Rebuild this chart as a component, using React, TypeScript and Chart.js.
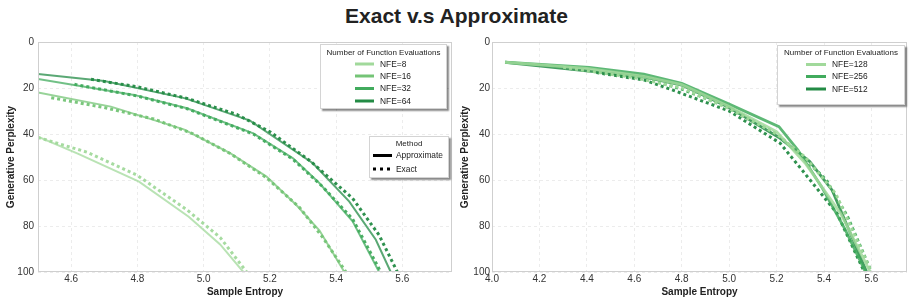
import React, { useEffect, useRef } from "react";
import { Chart, registerables } from "chart.js";

Chart.register(...registerables);

// ---------- text ----------
const TITLE = "Exact v.s Approximate";
const X_LABEL = "Sample Entropy";
const Y_LABEL = "Generative Perplexity";
const NFE_LEGEND_TITLE = "Number of Function Evaluations";
const METHOD_LEGEND_TITLE = "Method";
const METHOD_LABELS = ["Approximate", "Exact"];

// ---------- ticks ----------
const LEFT_X_TICKS = [4.6, 4.8, 5.0, 5.2, 5.4, 5.6];
const RIGHT_X_TICKS = [4.0, 4.2, 4.4, 4.6, 4.8, 5.0, 5.2, 5.4, 5.6];
const Y_TICKS = [0, 20, 40, 60, 80, 100];

// ---------- left panel series ----------
const LEFT_NFE = ["NFE=8", "NFE=16", "NFE=32", "NFE=64"];
const LEFT_COLORS = ["#a1d99b", "#74c476", "#41ab5d", "#238b45"];

const nfe8Approx = [[4.5, 41.2], [4.62, 48.5], [4.805, 60.7], [4.955, 76], [5.05, 88], [5.12, 100]];
const nfe8Exact = [[4.5, 41.5], [4.65, 48], [4.8, 58], [4.95, 73], [5.05, 85], [5.13, 100]];
const nfe16Approx = [[4.5, 21.9], [4.72, 28.1], [4.94, 38], [5.08, 48.3], [5.19, 58.5], [5.28, 70.9], [5.35, 82], [5.425, 100]];
const nfe16Exact = [[4.54, 24.2], [4.7, 28.5], [4.85, 33.5], [4.97, 40], [5.08, 48.5], [5.19, 59], [5.29, 72], [5.36, 85], [5.43, 100]];
const nfe32Approx = [[4.5, 16.1], [4.79, 23], [4.95, 28.8], [5.15, 39.7], [5.27, 50.6], [5.35, 61.4], [5.45, 78], [5.53, 100]];
const nfe32Exact = [[4.61, 18.4], [4.8, 23.5], [4.95, 29], [5.15, 40], [5.27, 51], [5.36, 63], [5.45, 77], [5.535, 100]];
const nfe64Approx = [[4.5, 13.9], [4.7, 17], [4.945, 24.5], [5.14, 34.2], [5.33, 52.7], [5.44, 69.4], [5.52, 86], [5.565, 100]];
const nfe64Exact = [[4.66, 16.2], [4.8, 19.5], [4.95, 24.5], [5.1, 31.5], [5.2, 39], [5.32, 51.5], [5.45, 68], [5.53, 84], [5.585, 100]];

const LEFT_APPROX = [nfe8Approx, nfe16Approx, nfe32Approx, nfe64Approx];
const LEFT_EXACT = [nfe8Exact, nfe16Exact, nfe32Exact, nfe64Exact];

// ---------- right panel series ----------
const RIGHT_NFE = ["NFE=128", "NFE=256", "NFE=512"];
const RIGHT_COLORS = ["#a1d99b", "#41ab5d", "#238b45"];

const nfe128Approx = [[4.055, 8.8], [4.4, 11.5], [4.64, 15], [4.8, 18.5], [5.0, 28], [5.2, 39], [5.32, 52.6], [5.47, 74.5], [5.595, 100]];
const nfe128Exact = [[4.3, 11], [4.6, 15.5], [4.8, 20], [5.0, 29], [5.2, 40], [5.32, 50], [5.45, 66], [5.6, 100]];
const nfe256Approx = [[4.055, 8.8], [4.41, 11], [4.64, 14], [4.8, 18], [5.0, 27], [5.21, 36.8], [5.29, 47], [5.39, 63], [5.49, 81.7], [5.575, 100]];
const nfe256Exact = [[4.25, 10.5], [4.45, 13], [4.65, 16], [4.8, 20.5], [5.0, 28.5], [5.2, 40], [5.31, 50], [5.41, 60], [5.5, 76], [5.6, 100]];
const nfe512Approx = [[4.055, 8.8], [4.63, 15], [4.8, 18.7], [5.0, 28.5], [5.21, 41.5], [5.34, 52], [5.435, 64.5], [5.58, 100]];
const nfe512Exact = [[4.44, 13.3], [4.64, 16.5], [4.78, 21.6], [5.0, 30], [5.215, 44], [5.31, 56], [5.455, 74.5], [5.57, 100]];

const RIGHT_APPROX = [nfe128Approx, nfe256Approx, nfe512Approx];
const RIGHT_EXACT = [nfe128Exact, nfe256Exact, nfe512Exact];

// ---------- styling ----------
const FONT = '"Liberation Sans", Arial, sans-serif';
const TICK_COLOR = "#333";
const GRID_COLOR = "#ececec";
const FRAME_COLOR = "#cfcfcf";
const DOT_DASH = [3, 3];

function toXY(arr: number[][]) {
  return arr.map(([x, y]) => ({ x, y }));
}

function withAlpha(hex: string, a: number) {
  const r = parseInt(hex.slice(1, 3), 16);
  const g = parseInt(hex.slice(3, 5), 16);
  const b = parseInt(hex.slice(5, 7), 16);
  return `rgba(${r},${g},${b},${a})`;
}

type LegendItem = { label: string; color: string; dash?: number[]; width: number };
type LegendBox = {
  x: number; y: number; w: number; h: number;
  title: string; titleY: number;
  lineX0: number; lineX1: number; textX: number;
  rowsY: number[];
  items: LegendItem[];
};

function drawLegend(ctx: CanvasRenderingContext2D, b: LegendBox) {
  ctx.save();
  ctx.shadowColor = "rgba(0,0,0,0.45)";
  ctx.shadowOffsetX = 2;
  ctx.shadowOffsetY = 2;
  ctx.shadowBlur = 1.5;
  ctx.fillStyle = "#ffffff";
  ctx.fillRect(b.x, b.y, b.w, b.h);
  ctx.restore();

  ctx.save();
  ctx.strokeStyle = "#d4d4d4";
  ctx.lineWidth = 1;
  ctx.strokeRect(b.x + 0.5, b.y + 0.5, b.w - 1, b.h - 1);
  ctx.fillStyle = "#222";
  ctx.font = `8px ${FONT}`;
  ctx.textAlign = "center";
  ctx.textBaseline = "middle";
  ctx.fillText(b.title, b.x + b.w / 2, b.titleY);
  ctx.font = `8.4px ${FONT}`;
  b.items.forEach((it, i) => {
    const yy = b.rowsY[i];
    ctx.beginPath();
    ctx.strokeStyle = it.color;
    ctx.lineWidth = it.width;
    ctx.lineCap = "butt";
    ctx.setLineDash(it.dash || []);
    ctx.moveTo(b.lineX0, yy);
    ctx.lineTo(b.lineX1, yy);
    ctx.stroke();
    ctx.setLineDash([]);
    ctx.fillStyle = "#222";
    ctx.textAlign = "left";
    ctx.fillText(it.label, b.textX, yy + 0.5);
  });
  ctx.restore();
}

function makeChart(
  canvas: HTMLCanvasElement,
  opts: {
    xMin: number; xMax: number; xTicks: number[];
    approx: number[][][]; exact: number[][][];
    colors: string[];
    lineWidth: number; dotWidth: number; lineAlpha: number;
    yAxisWidth: number; yTickPad: number; yTitlePad: number;
    padRight: number;
    legends: LegendBox[];
  }
) {
  const datasets: any[] = [];
  opts.approx.forEach((s, i) => {
    datasets.push({
      data: toXY(s),
      borderColor: withAlpha(opts.colors[i], opts.lineAlpha),
      borderWidth: opts.lineWidth,
      pointRadius: 0,
      showLine: true,
      fill: false,
      tension: 0,
    });
    datasets.push({
      data: toXY(opts.exact[i]),
      borderColor: withAlpha(opts.colors[i], 0.95),
      borderWidth: opts.dotWidth,
      borderDash: DOT_DASH,
      borderCapStyle: "butt",
      pointRadius: 0,
      showLine: true,
      fill: false,
      tension: 0,
    });
  });

  const framePlugin = {
    id: "frameAndLegends",
    afterDraw(chart: any) {
      const { ctx, chartArea } = chart;
      ctx.save();
      ctx.strokeStyle = FRAME_COLOR;
      ctx.lineWidth = 1;
      ctx.strokeRect(
        Math.round(chartArea.left) + 0.5,
        Math.round(chartArea.top) + 0.5,
        Math.round(chartArea.right - chartArea.left) - 1,
        Math.round(chartArea.bottom - chartArea.top) - 1
      );
      ctx.restore();
      opts.legends.forEach((b) => drawLegend(ctx, b));
    },
  };

  return new Chart(canvas, {
    type: "scatter",
    data: { datasets },
    plugins: [framePlugin],
    options: {
      animation: false,
      responsive: false,
      maintainAspectRatio: false,
      events: [],
      layout: { padding: { top: 42, right: opts.padRight, left: 0, bottom: 0 } },
      plugins: { legend: { display: false }, tooltip: { enabled: false }, title: { display: false } },
      scales: {
        x: {
          type: "linear",
          min: opts.xMin,
          max: opts.xMax,
          afterBuildTicks: (s: any) => {
            s.ticks = opts.xTicks.map((v) => ({ value: v }));
          },
          afterFit: (s: any) => {
            s.height = 31;
          },
          grid: { color: GRID_COLOR, drawTicks: false, lineWidth: 1 },
          border: { display: false, dash: [3, 3] },
          ticks: {
            padding: 1,
            color: TICK_COLOR,
            font: { family: FONT, size: 10 },
            maxRotation: 0,
            autoSkip: false,
            callback: (v: any) => Number(v).toFixed(1),
          },
          title: {
            display: true,
            text: X_LABEL,
            color: "#222",
            font: { family: FONT, size: 10, weight: "bold" },
            padding: { top: 0, bottom: 5 },
          },
        },
        y: {
          type: "linear",
          reverse: true,
          min: 0,
          max: 100,
          afterBuildTicks: (s: any) => {
            s.ticks = Y_TICKS.map((v) => ({ value: v }));
          },
          afterFit: (s: any) => {
            s.width = opts.yAxisWidth;
          },
          grid: { color: GRID_COLOR, drawTicks: false, lineWidth: 1 },
          border: { display: false, dash: [3, 3] },
          ticks: {
            padding: opts.yTickPad,
            color: TICK_COLOR,
            font: { family: FONT, size: 10 },
            autoSkip: false,
          },
          title: {
            display: true,
            text: Y_LABEL,
            color: "#222",
            font: { family: FONT, size: 10, weight: "bold" },
            padding: { top: opts.yTitlePad, bottom: 0 },
          },
        },
      },
    } as any,
  });
}

export default function App() {
  const leftRef = useRef<HTMLCanvasElement>(null);
  const rightRef = useRef<HTMLCanvasElement>(null);

  useEffect(() => {
    const leftLegends: LegendBox[] = [
      {
        x: 320, y: 44, w: 127, h: 65,
        title: NFE_LEGEND_TITLE, titleY: 53,
        lineX0: 355, lineX1: 374, textX: 380,
        rowsY: [64, 76, 88.5, 101],
        items: LEFT_NFE.map((l, i) => ({ label: l, color: LEFT_COLORS[i], width: 3 })),
      },
      {
        x: 369, y: 136, w: 80, h: 42,
        title: METHOD_LEGEND_TITLE, titleY: 144,
        lineX0: 373, lineX1: 392, textX: 396,
        rowsY: [155.5, 169],
        items: [
          { label: METHOD_LABELS[0], color: "#000", width: 3 },
          { label: METHOD_LABELS[1], color: "#000", width: 3, dash: [3, 4] },
        ],
      },
    ];
    const rightLegends: LegendBox[] = [
      {
        x: 321, y: 45, w: 128, h: 60,
        title: NFE_LEGEND_TITLE, titleY: 53,
        lineX0: 350, lineX1: 370, textX: 376,
        rowsY: [64.5, 76.5, 89],
        items: RIGHT_NFE.map((l, i) => ({ label: l, color: RIGHT_COLORS[i], width: 3 })),
      },
    ];

    const left = makeChart(leftRef.current!, {
      xMin: 4.5, xMax: 5.75, xTicks: LEFT_X_TICKS,
      approx: LEFT_APPROX, exact: LEFT_EXACT, colors: LEFT_COLORS,
      lineWidth: 2, dotWidth: 3, lineAlpha: 0.75,
      yAxisWidth: 38, yTickPad: 4, yTitlePad: 5, padRight: 4,
      legends: leftLegends,
    });
    const right = makeChart(rightRef.current!, {
      xMin: 4.0, xMax: 5.75, xTicks: RIGHT_X_TICKS,
      approx: RIGHT_APPROX, exact: RIGHT_EXACT, colors: RIGHT_COLORS,
      lineWidth: 2.8, dotWidth: 3, lineAlpha: 0.85,
      yAxisWidth: 36, yTickPad: 2, yTitlePad: 3, padRight: 6,
      legends: rightLegends,
    });
    return () => {
      left.destroy();
      right.destroy();
    };
  }, []);

  return (
    <div
      style={{
        position: "absolute",
        left: 0,
        top: 0,
        width: 913,
        height: 303,
        background: "#fff",
        overflow: "hidden",
      }}
    >
      <div
        style={{
          position: "absolute",
          left: 0,
          top: 4.5,
          width: 913,
          textAlign: "center",
          fontFamily: FONT,
          fontWeight: "bold",
          fontSize: 21,
          lineHeight: "21px",
          color: "#222",
          whiteSpace: "nowrap",
        }}
      >
        {TITLE}
      </div>
      <canvas
        ref={leftRef}
        width={456}
        height={303}
        style={{ position: "absolute", left: 0, top: 0, width: 456, height: 303 }}
      />
      <canvas
        ref={rightRef}
        width={457}
        height={303}
        style={{ position: "absolute", left: 456, top: 0, width: 457, height: 303 }}
      />
    </div>
  );
}
